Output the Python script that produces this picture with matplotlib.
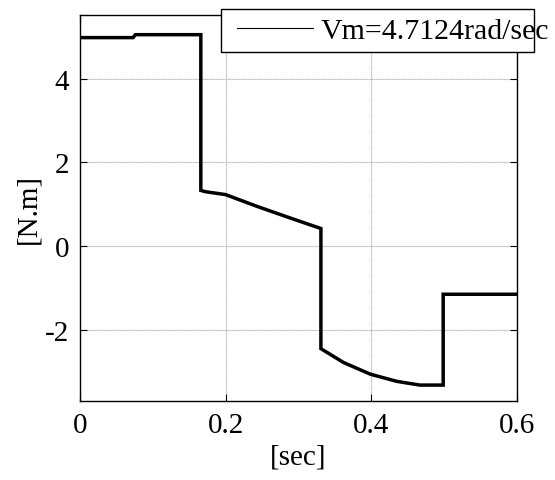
import matplotlib
matplotlib.use("Agg")
import matplotlib.pyplot as plt
from matplotlib.lines import Line2D
from matplotlib.patches import Rectangle

plt.rcParams['font.family'] = ['Liberation Serif', 'DejaVu Serif']
plt.rcParams['mathtext.fontset'] = 'stix'

# data (time in sec, torque in N.m)
t = [0, 0.073, 0.076, 0.166, 0.166, 0.172, 0.2, 0.243, 0.289, 0.331, 0.331,
     0.362, 0.399, 0.435, 0.467, 0.499, 0.499, 0.6]
torque = [4.98, 4.98, 5.05, 5.05, 1.33, 1.30, 1.23, 0.95, 0.67, 0.42, -2.45,
          -2.78, -3.06, -3.23, -3.32, -3.32, -1.15, -1.15]
legend_label = 'Vm=4.7124rad/sec'
xticks = [0, 0.2, 0.4, 0.6]
xtick_labels = ['0', '0.2', '0.4', '0.6']
yticks = [-2, 0, 2, 4]
ytick_labels = ['-2', '0', '2', '4']

fig = plt.figure(figsize=(5.55, 4.81), dpi=100)
ax = fig.add_axes([80/555, 1-402/481, (516.7-80)/555, (402-16)/481])
ax.plot(t, torque, color='black', lw=2.5, solid_joinstyle='miter')
ax.set_xlim(0, 0.6)
ax.set_ylim(-3.7, 5.52)
ax.set_xticks(xticks)
ax.set_xticklabels(xtick_labels)
ax.set_yticks(yticks)
ax.set_yticklabels(ytick_labels)
ax.tick_params(direction='in', top=True, right=True, labelsize=21, length=5,
               width=0.8, pad=8)
ax.grid(True, color='#b0b0b0', lw=0.8, ls=(0, (1, 0.6)))
for s in ax.spines.values():
    s.set_linewidth(1.0)
ax.set_xlabel('[sec]', fontsize=21, labelpad=4)
ax.set_ylabel('[N.m]', fontsize=21, labelpad=2)

# legend box (frame drawn separately: text overflows the frame as in reference)
fig.patches.append(Rectangle((221/555, 1-53/481), (534-221)/555, 43/481,
                             transform=fig.transFigure, facecolor='white',
                             edgecolor='black', lw=1.0, zorder=5))
h = Line2D([], [], color='black', lw=0.8)
leg = fig.legend([h], [legend_label], loc='center left',
                 bbox_to_anchor=(237/555, 1-32/481), fontsize=21.5,
                 frameon=False, handlelength=2.55, handletextpad=0.25,
                 borderpad=0, borderaxespad=0)
leg.set_zorder(6)

fig.savefig('out.png', dpi=100)
